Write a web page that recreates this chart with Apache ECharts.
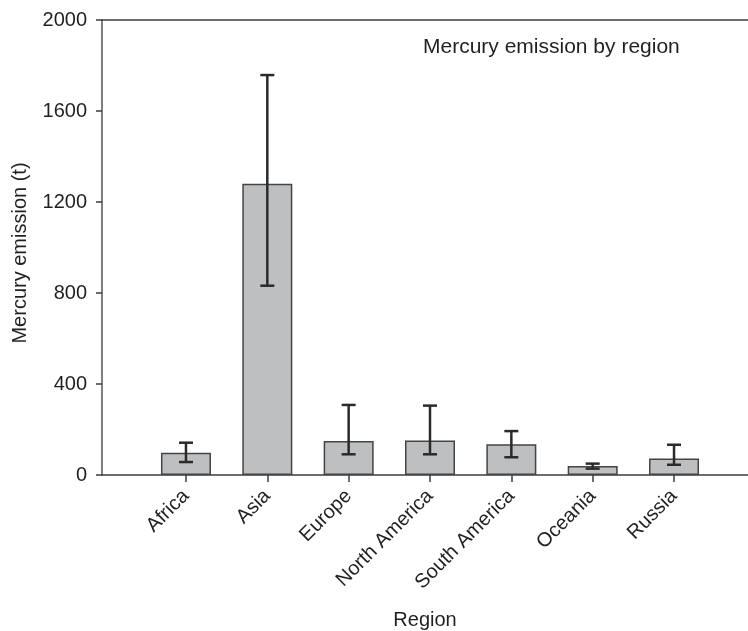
<!DOCTYPE html>
<html><head><meta charset="utf-8">
<script src="https://cdn.jsdelivr.net/npm/echarts@6/dist/echarts.min.js"></script>
<style>html,body{margin:0;padding:0;background:#fff}#c{width:748px;height:631px}</style>
</head><body><div id="c"></div>
<script>
const categories = ['Africa', 'Asia', 'Europe', 'North America', 'South America', 'Oceania', 'Russia'];
const emission = [98, 1280, 150, 152, 135, 40, 73];
const errLow = [57, 832, 91, 91, 78, 28, 45];
const errHigh = [142, 1758, 308, 305, 193, 50, 133];
const yMin = 0, yMax = 2000, yStep = 400;

const FONT = "'Liberation Sans', Arial, sans-serif";
const TXT = '#231f20';
const LINE = '#3c3c3c';

const errData = categories.map((c, i) => [i, errLow[i], errHigh[i]]);

const chart = echarts.init(document.getElementById('c'), null, {renderer: 'canvas'});
chart.setOption({
  animation: false,
  backgroundColor: '#fff',
  textStyle: {fontFamily: FONT},
  title: {
    text: 'Mercury emission by region',
    left: 423, top: 37, padding: 0,
    textStyle: {fontFamily: FONT, fontSize: 21, fontWeight: 'normal', color: TXT}
  },
  grid: [
    {left: 102, right: 0, top: 20, bottom: 156, outerBoundsMode: 'none', containLabel: false},
    {left: 145.3, right: 33.3, top: 20, bottom: 156, outerBoundsMode: 'none', containLabel: false}
  ],
  xAxis: [
    {
      gridIndex: 0, type: 'value', min: 0, max: 1, position: 'bottom',
      axisLine: {show: true, lineStyle: {color: LINE, width: 1.5}},
      axisTick: {show: false}, axisLabel: {show: false}, splitLine: {show: false},
      name: 'Region', nameLocation: 'middle', nameGap: 135, nameMoveOverlap: false,
      nameTextStyle: {fontFamily: FONT, fontSize: 20, color: TXT}
    },
    {
      gridIndex: 0, type: 'value', min: 0, max: 1, position: 'top',
      axisLine: {show: true, lineStyle: {color: LINE, width: 1.5}},
      axisTick: {show: false}, axisLabel: {show: false}, splitLine: {show: false}
    },
    {
      gridIndex: 1, type: 'category', data: categories, position: 'bottom',
      axisLine: {show: false},
      axisTick: {show: true, alignWithLabel: true, length: 7, lineStyle: {color: LINE, width: 1.5}},
      axisLabel: {rotate: 45, fontFamily: FONT, fontSize: 20, color: TXT, margin: 18, interval: 0},
      splitLine: {show: false}
    }
  ],
  yAxis: [
    {
      gridIndex: 0, type: 'value', min: yMin, max: yMax, interval: yStep,
      axisLine: {show: true, lineStyle: {color: '#555', width: 1.5}},
      axisTick: {show: true, length: 6, lineStyle: {color: LINE, width: 1.5}},
      axisLabel: {fontFamily: FONT, fontSize: 20, color: TXT, margin: 15, formatter: v => String(v)},
      splitLine: {show: false},
      name: 'Mercury emission (t)', nameLocation: 'middle', nameGap: 72, nameMoveOverlap: false,
      nameTextStyle: {fontFamily: FONT, fontSize: 20, color: TXT, padding: [0, 11, 0, 0]}
    },
    {
      gridIndex: 1, type: 'value', min: yMin, max: yMax, show: false
    }
  ],
  series: [
    {
      type: 'bar', xAxisIndex: 2, yAxisIndex: 1, data: emission, barWidth: 50,
      itemStyle: {color: '#bdbfc1', borderColor: '#444', borderWidth: 1.5}
    },
    {
      type: 'custom', xAxisIndex: 2, yAxisIndex: 1, data: errData, clip: false, z: 5,
      renderItem: function (params, api) {
        const x = api.value(0);
        const lo = api.coord([x, api.value(1)]);
        const hi = api.coord([x, api.value(2)]);
        const hw = 7;
        const st = {stroke: '#2a2a2a', lineWidth: 2.5};
        return {
          type: 'group',
          children: [
            {type: 'line', shape: {x1: hi[0], y1: hi[1], x2: lo[0], y2: lo[1]}, style: st},
            {type: 'line', shape: {x1: hi[0] - hw, y1: hi[1], x2: hi[0] + hw, y2: hi[1]}, style: st},
            {type: 'line', shape: {x1: lo[0] - hw, y1: lo[1], x2: lo[0] + hw, y2: lo[1]}, style: st}
          ]
        };
      }
    }
  ]
});
</script></body></html>
